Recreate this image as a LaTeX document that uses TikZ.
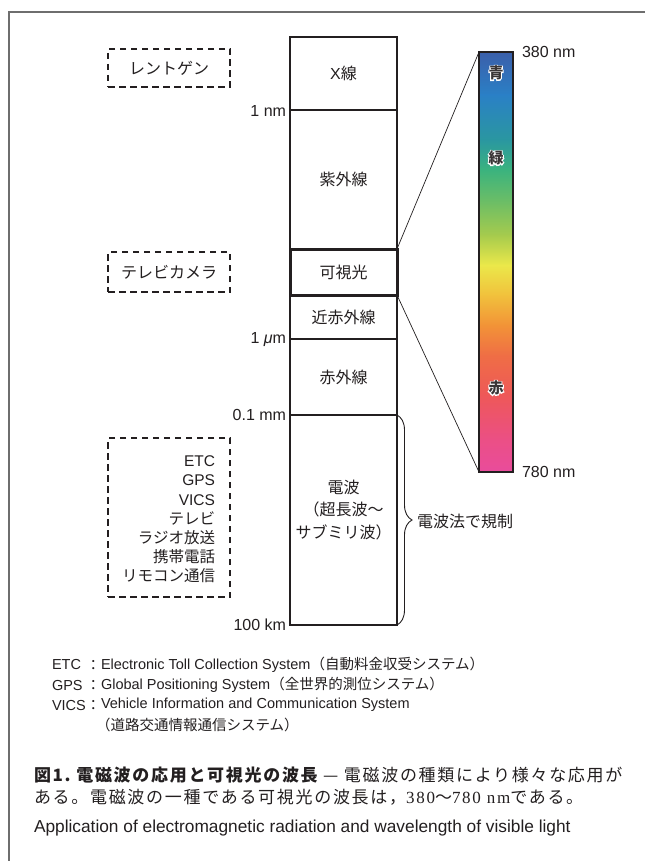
\documentclass[tikz,border=0pt]{standalone}
\usepackage{fontspec}
\setmainfont{Liberation Sans}
\newfontfamily\jp{Noto Sans CJK JP}
\newfontfamily\jpcap{Noto Sans CJK JP}[LetterSpace=10]
\newfontfamily\sercap{Liberation Serif}[LetterSpace=10]
\usetikzlibrary{decorations.pathreplacing}
\definecolor{ink}{HTML}{231F20}
\definecolor{framegray}{HTML}{6E6E6E}
\definecolor{s1}{HTML}{3B5FAA}
\definecolor{s2}{HTML}{2A80C6}
\definecolor{s3}{HTML}{2A97A0}
\definecolor{s4}{HTML}{3BB37E}
\definecolor{s5}{HTML}{72BF63}
\definecolor{s6}{HTML}{A6CB4D}
\definecolor{s7}{HTML}{EBE84A}
\definecolor{s8}{HTML}{F1C13C}
\definecolor{s9}{HTML}{F29337}
\definecolor{s10}{HTML}{EF6E45}
\definecolor{s11}{HTML}{EE5858}
\definecolor{s12}{HTML}{EB4F86}
\definecolor{s13}{HTML}{E94C9C}
\newcommand\haloglyph[1]{\rlap{\color{white}\addfontfeature{FakeBold=12}#1}#1}
\begin{document}
\begin{tikzpicture}[x=1pt,y=-1pt,
  every node/.style={text=ink, inner sep=0pt, outer sep=0pt},
  seg/.style={draw=ink, line width=1.1pt, minimum width=107pt, font=\fontsize{16}{19}\selectfont},
  dbox/.style={draw=ink, line width=1.2pt, dash pattern=on 6.5pt off 4.5pt, minimum width=122pt, font=\jp\fontsize{16}{19}\selectfont},
  scalelbl/.style={anchor=east, font=\fontsize{16}{19}\selectfont},
  jplbl/.style={font=\jp\fontsize{16}{19}\selectfont},
  colorlbl/.style={text=ink!90, font=\jp\bfseries\fontsize{15}{17}\selectfont},
  note/.style={anchor=west, font=\fontsize{14.5}{17}\selectfont},
  captxt/.style={anchor=west, font=\fontsize{17}{21}\selectfont}]

\useasboundingbox (0,0) rectangle (645,861);
\fill[white] (0,0) rectangle (645,861);

% frame
\coordinate (fbl) at (9,861);
\coordinate (ftl) at (9,12);
\coordinate (ftr) at (645,12);
\draw[framegray, line width=1.2pt] (fbl) -- (ftl) -- (ftr);

% main column
\node[seg, minimum height=73pt] (xray) at (343.5,73.5) {X{\jp 線}};
\node[seg, minimum height=139pt] (uv) at (343.5,179.5) {\jp 紫外線};
\node[seg, minimum height=44pt] (nir) at (343.5,317) {\jp 近赤外線};
\node[seg, minimum height=76pt] (ir) at (343.5,377) {\jp 赤外線};
\node[seg, minimum height=210pt] (radio) at (343.5,520) {};
\node[seg, draw=none, align=center, font=\jp\fontsize{16}{22.5}\selectfont] (radiotxt) at (343.5,510) {電波\\（超長波～\\サブミリ波）};
\node[seg, draw=none, minimum height=46pt] (vis) at (343.5,272) {\jp 可視光};
\draw[ink, line width=3pt] (vis.north west) rectangle (vis.south east);

% scale labels
\node[scalelbl] (l1nm) at (286,111) {1 nm};
\node[scalelbl] (l1um) at (286,340) {1 {\itshape μ}m};
\node[scalelbl] (l01mm) at (286,415) {0.1 mm};
\node[scalelbl] (l100km) at (286,625) {100 km};

% dashed application boxes
\node[dbox, minimum height=38pt] (xapp) at (169,68) {レントゲン};
\node[dbox, minimum height=40pt] (visapp) at (169,272) {テレビカメラ};
\node[dbox, minimum height=159pt] (radioapp) at (169,517.5) {};
\node[anchor=east, align=right, font=\fontsize{15.5}{19.2}\selectfont] (radioapptxt) at (215,519.5)
  {ETC\\GPS\\VICS\\{\jp テレビ}\\{\jp ラジオ放送}\\{\jp 携帯電話}\\{\jp リモコン通信}};

% spectrum bar
\shade[top color=s1, bottom color=s2] (479,52) rectangle (513,95.5);
\shade[top color=s2, bottom color=s3] (479,95) rectangle (513,140.5);
\shade[top color=s3, bottom color=s4] (479,140) rectangle (513,170.5);
\shade[top color=s4, bottom color=s5] (479,170) rectangle (513,205.5);
\shade[top color=s5, bottom color=s6] (479,205) rectangle (513,235.5);
\shade[top color=s6, bottom color=s7] (479,235) rectangle (513,265.5);
\shade[top color=s7, bottom color=s8] (479,265) rectangle (513,295.5);
\shade[top color=s8, bottom color=s9] (479,295) rectangle (513,325.5);
\shade[top color=s9, bottom color=s10] (479,325) rectangle (513,355.5);
\shade[top color=s10, bottom color=s11] (479,355) rectangle (513,395.5);
\shade[top color=s11, bottom color=s12] (479,395) rectangle (513,440.5);
\shade[top color=s12, bottom color=s13] (479,440) rectangle (513,472);
\node[draw=ink, line width=1.1pt, minimum width=34pt, minimum height=420pt] (spec) at (496,262) {};

\node[colorlbl] (cblue) at (496,73) {\haloglyph{青}};
\node[colorlbl] (cgreen) at (496,158) {\haloglyph{緑}};
\node[colorlbl] (cred) at (496,388) {\haloglyph{赤}};

\node[anchor=west, font=\fontsize{16}{19}\selectfont] (l380) at (522,52) {380 nm};
\node[anchor=west, font=\fontsize{16}{19}\selectfont] (l780) at (522,472) {780 nm};

% zoom connectors
\draw[ink, line width=0.7pt] (vis.north east) -- (spec.north west);
\draw[ink, line width=0.7pt] (vis.south east) -- (spec.south west);

% brace
\draw[ink, line width=0.9pt, decorate, decoration={brace, amplitude=15pt}] (radio.north east) -- (radio.south east);
\node[jplbl, anchor=west] (law) at (417,521) {電波法で規制};

% notes
\node[note] (nEtc) at (52,665) {ETC};
\node[note] (nGps) at (52,685) {GPS};
\node[note] (nVics) at (52,705) {VICS};
\node[note] (cEtc) at (86,665) {\jp ：};
\node[note] (cGps) at (86,685) {\jp ：};
\node[note] (cVics) at (86,705) {\jp ：};
\node[note] (dEtc) at (101,665) {Electronic Toll Collection System{\jp （自動料金収受システム）}};
\node[note] (dGps) at (101,685) {Global Positioning System{\jp （全世界的測位システム）}};
\node[note] (dVics) at (101,705) {Vehicle Information and Communication System};
\node[note] (dVics2) at (96,725) {\jp （道路交通情報通信システム）};

% caption
\node[captxt] (cap1) at (34,775) {{\jpcap\bfseries 図1.\ 電磁波の応用と可視光の波長}{\jpcap\ — 電磁波の種類により様々な応用が}};
\node[captxt] (cap2) at (34,797) {{\jpcap ある。電磁波の一種である可視光の波長は，}{\sercap 380}{\jpcap ～}{\sercap 780 nm}{\jpcap である。}};
\node[anchor=west, font=\fontsize{17.3}{21}\selectfont] (cap3) at (34,828) {Application of electromagnetic radiation and wavelength of visible light};

\end{tikzpicture}
\end{document}
